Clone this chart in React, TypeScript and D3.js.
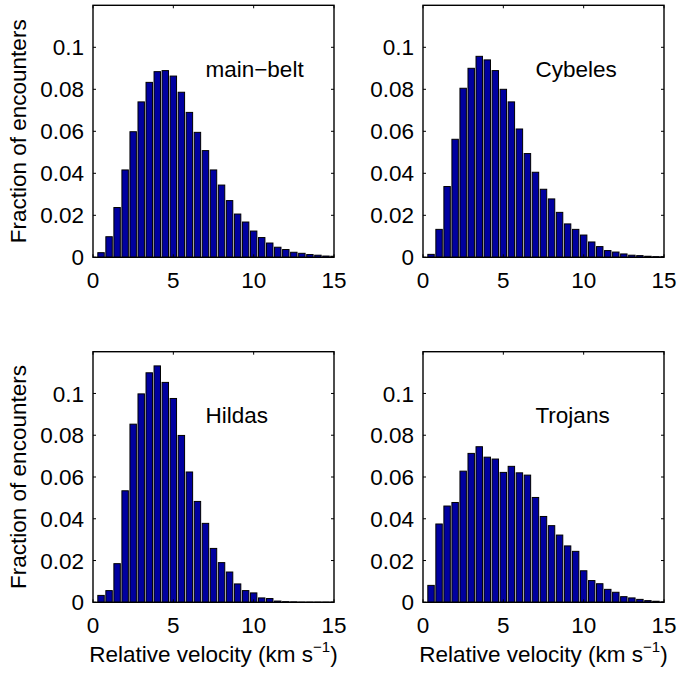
import React from "react";
import * as d3 from "d3";

const binCenters = [0.5, 1, 1.5, 2, 2.5, 3, 3.5, 4, 4.5, 5, 5.5, 6, 6.5, 7, 7.5, 8, 8.5, 9, 9.5, 10, 10.5, 11, 11.5, 12, 12.5, 13, 13.5, 14, 14.5, 15];

const mainBelt = [0.0022, 0.0098, 0.0237, 0.0416, 0.0598, 0.074, 0.0833, 0.0884, 0.0889, 0.0863, 0.0786, 0.069, 0.0595, 0.0508, 0.0416, 0.0344, 0.027, 0.0206, 0.0168, 0.0125, 0.0094, 0.0068, 0.0048, 0.0037, 0.0024, 0.0019, 0.0013, 0.001, 0.0006, 0.0005];
const cybeles = [0.0014, 0.0133, 0.0337, 0.0562, 0.0805, 0.09, 0.0957, 0.094, 0.0889, 0.08, 0.074, 0.0611, 0.0494, 0.0405, 0.0324, 0.0278, 0.0214, 0.0159, 0.0133, 0.0106, 0.0073, 0.0051, 0.0032, 0.0025, 0.0016, 0.001, 0.0008, 0.0005, 0.0003, 0.0003];
const hildas = [0.0033, 0.0056, 0.0185, 0.0534, 0.0853, 0.0998, 0.1099, 0.1132, 0.1053, 0.0976, 0.0799, 0.0624, 0.0483, 0.0378, 0.0258, 0.019, 0.0145, 0.0088, 0.0056, 0.0045, 0.0021, 0.0018, 0.0006, 0.0003, 0.0002, 0.0001, 0.0001, 0.0001, 0.0001, 0.0001];
const trojans = [0.0081, 0.0375, 0.0461, 0.0478, 0.0628, 0.0713, 0.0745, 0.0695, 0.0686, 0.0622, 0.0651, 0.062, 0.0609, 0.0502, 0.0411, 0.0367, 0.0322, 0.027, 0.0244, 0.0151, 0.0104, 0.0089, 0.0062, 0.0048, 0.0027, 0.0021, 0.0014, 0.0008, 0.0005, 0.0002];

const panelNames = ["main\u2212belt", "Cybeles", "Hildas", "Trojans"];
const panelSeries = [mainBelt, cybeles, hildas, trojans];
const xTicks = [0, 5, 10, 15];
const yTicks = [0, 0.02, 0.04, 0.06, 0.08, 0.1];
const yTickLabels = ["0", "0.02", "0.04", "0.06", "0.08", "0.1"];

const FONT = "'Liberation Sans', Arial, Helvetica, sans-serif";
const FS = 22.5;

type PanelProps = { left: number; top: number; width: number; height: number; name: string; values: number[]; idx: number; showYLabel: boolean; showXLabel: boolean };

function Panel({ left, top, width, height, name, values, idx, showYLabel, showXLabel }: PanelProps) {
  const x = d3.scaleLinear().domain([0, 15]).range([left, left + width]);
  const y = d3.scaleLinear().domain([0, 0.12]).range([top + height, top]);
  const barW = 0.4;
  const clipId = `clip${idx}`;
  const tl = 3;
  return (
    <g>
      <defs>
        <clipPath id={clipId}>
          <rect x={left} y={top} width={width} height={height} />
        </clipPath>
      </defs>
      <g clipPath={`url(#${clipId})`}>
        {values.map((v, i) => {
          const c = binCenters[i];
          const x0 = x(c - barW / 2);
          const x1 = x(c + barW / 2);
          return (
            <rect key={i} x={x0} y={y(v)} width={x1 - x0} height={y(0) - y(v)} fill="#0000a0" stroke="#000" strokeWidth={1} />
          );
        })}
      </g>
      <rect x={left} y={top} width={width} height={height} fill="none" stroke="#000" strokeWidth={1.4} />
      {xTicks.map((t) => (
        <g key={"x" + t}>
          <line x1={x(t)} x2={x(t)} y1={top + height} y2={top + height - tl} stroke="#000" />
          <line x1={x(t)} x2={x(t)} y1={top} y2={top + tl} stroke="#000" />
          <text x={x(t)} y={top + height + 31} textAnchor="middle" fontFamily={FONT} fontSize={FS}>{t}</text>
        </g>
      ))}
      {yTicks.map((t, i) => (
        <g key={"y" + t}>
          <line x1={left} x2={left + tl} y1={y(t)} y2={y(t)} stroke="#000" />
          <line x1={left + width} x2={left + width - tl} y1={y(t)} y2={y(t)} stroke="#000" />
          <text x={left - 9} y={y(t)} dy="0.36em" textAnchor="end" fontFamily={FONT} fontSize={FS}>{yTickLabels[i]}</text>
        </g>
      ))}
      <text x={x(7)} y={y(0.0858)} fontFamily={FONT} fontSize={FS}>{name}</text>
      {showYLabel && (
        <text transform={`translate(${left - 67},${top + height / 2}) rotate(-90)`} textAnchor="middle" fontFamily={FONT} fontSize={FS}>Fraction of encounters</text>
      )}
      {showXLabel && (
        <text x={left + width / 2} y={top + height + 60} textAnchor="middle" fontFamily={FONT} fontSize={FS}>
          Relative velocity (km s<tspan dy={-10} fontSize={15}>{"\u22121"}</tspan><tspan dy={10}>)</tspan>
        </text>
      )}
    </g>
  );
}

export default function App() {
  const lefts = [93, 423];
  const tops = [5.3, 351.7];
  const heights = [252, 250.6];
  const width = 241;
  return (
    <svg width={677} height={673} style={{ position: "absolute", left: 0, top: 0, background: "#fff" }}>
      <rect x={0} y={0} width={677} height={673} fill="#fff" />
      {panelSeries.map((vals, i) => {
        const r = Math.floor(i / 2);
        const c = i % 2;
        return (
          <Panel key={i} idx={i} left={lefts[c]} top={tops[r]} width={width} height={heights[r]} name={panelNames[i]} values={vals} showYLabel={c === 0} showXLabel={r === 1} />
        );
      })}
    </svg>
  );
}
